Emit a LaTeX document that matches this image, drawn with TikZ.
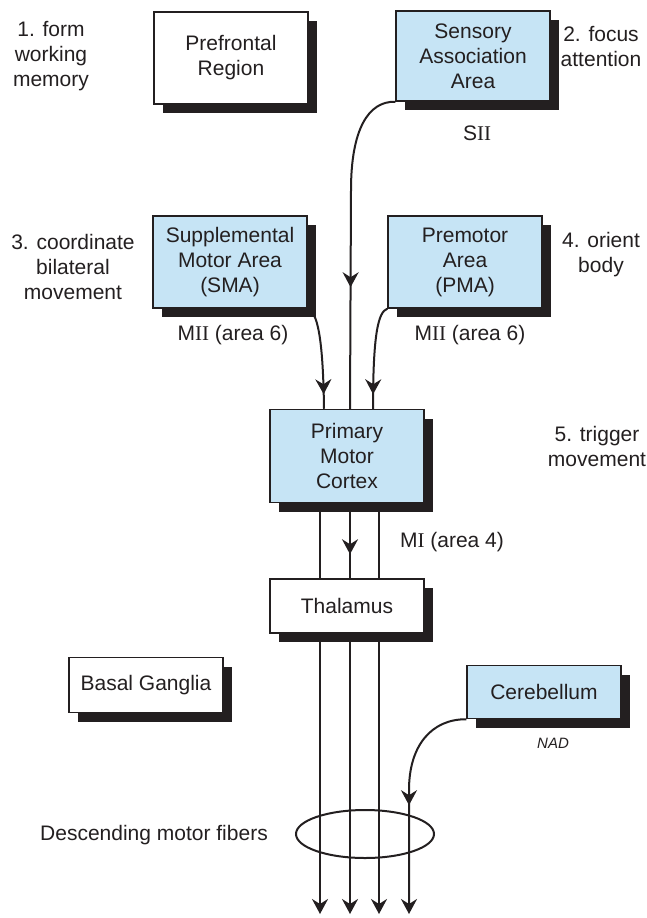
\documentclass[tikz,border=0pt]{standalone}
\usepackage{fontspec}
\setmainfont{Liberation Sans}
\newfontfamily\numfont{Liberation Serif}
\usepackage{tikz}
\usetikzlibrary{arrows.meta,calc,shapes.geometric,shadows,decorations.markings}
\definecolor{ink}{HTML}{231F20}
\definecolor{cortex}{HTML}{C6E4F5}
\tikzset{
  regionbox/.style={draw=ink, line width=1.5pt, rectangle, minimum width=154pt, align=center, inner sep=2pt,
    font=\fontsize{21}{25}\selectfont, text=ink, fill=white,
    drop shadow={shadow xshift=9pt, shadow yshift=-9pt, opacity=1, fill=ink}},
  cortexbox/.style={regionbox, fill=cortex},
  lbl/.style={align=center, font=\fontsize{21}{25}\selectfont, text=ink, inner sep=0pt},
  fiber/.style={draw=ink, line width=2pt},
  arr/.style={-{Stealth[length=15pt, width=16pt, inset=5pt]}},
  midarr/.style={postaction={decorate}, decoration={markings,
    mark=at position #1 with {\arrow{Stealth[length=15pt, width=16pt, inset=5pt]}}}}
}
\begin{document}
\begin{tikzpicture}[x=1pt, y=-1pt]
\useasboundingbox (0,0) rectangle (647,918);
\node[regionbox, minimum height=92pt] (pref) at (231,58) {Prefrontal\\Region};
\node[cortexbox, minimum height=90pt] (sens) at (473,56) {Sensory\\Association\\Area};
\node[cortexbox, minimum height=92pt] (sma) at (230,262) {Supplemental\\Motor Area\\(SMA)};
\node[cortexbox, minimum height=92pt] (pma) at (465,262) {Premotor\\Area\\(PMA)};
\node[cortexbox, minimum height=93pt] (pmc) at (347,456) {Primary\\Motor\\Cortex};
\node[regionbox, minimum height=54pt] (thal) at (347,606) {Thalamus};
\node[regionbox, minimum height=55pt] (basal) at (146,685) {Basal Ganglia};
\node[cortexbox, minimum height=53pt] (cereb) at (544,692) {Cerebellum};

\node[lbl] (formwm) at (51,56) {1. form\\working\\memory};
\node[lbl] (focus) at (601,47) {2. focus\\attention};
\node[lbl] (coord) at (73,267) {3. coordinate\\bilateral\\movement};
\node[lbl] (orient) at (601,255) {4. orient\\body};
\node[lbl] (trigger) at (597,446) {5. trigger\\movement};
\node[lbl] (sii) at (477,133) {S{\numfont II}};
\node[lbl] (miil) at (233,335) {M{\numfont II} (area 6)};
\node[lbl] (miir) at (470,335) {M{\numfont II} (area 6)};
\node[lbl] (mi) at (452,542) {M{\numfont I} (area 4)};
\node[lbl] (desc) at (154,835) {Descending motor fibers};
\node[lbl, font=\fontsize{15}{17}\selectfont\itshape] (nad) at (553,743) {NAD};
\node[fiber, ellipse, minimum width=138pt, minimum height=48pt, inner sep=0pt] (bundle) at (365,834) {};

\foreach \f/\x in {1/320, 2/350, 3/379, 4/409}
  \coordinate (foot\f) at (\x,914);

\draw[fiber, midarr=0.63] (sens.south west) .. controls (368,101) and (351,130) .. (351,190) -- ($(pmc.north)+(3,0)$);
\draw[fiber, midarr=0.86] (sma.south east) .. controls (317,312) and (323,335) .. ($(pmc.north)+(-23,0)$);
\draw[fiber, midarr=0.86] (pma.south west) .. controls (378,312) and (373,335) .. ($(pmc.north)+(26,0)$);
\draw[fiber, midarr=0.68] ($(pmc.south)+(3,0)$) -- ($(thal.north)+(3,0)$);
\foreach \dx in {-27, 32}
  \draw[fiber] ($(pmc.south)+(\dx,0)$) -- ($(thal.north)+(\dx,0)$);
\foreach \dx/\f in {-27/1, 3/2, 32/3}
  \draw[fiber, arr] ($(thal.south)+(\dx,0)$) -- (foot\f);
\draw[fiber, arr, midarr=0.52] (cereb.south west) .. controls (432,719) and (409,745) .. (409,790) -- (foot4);
\end{tikzpicture}
\end{document}
